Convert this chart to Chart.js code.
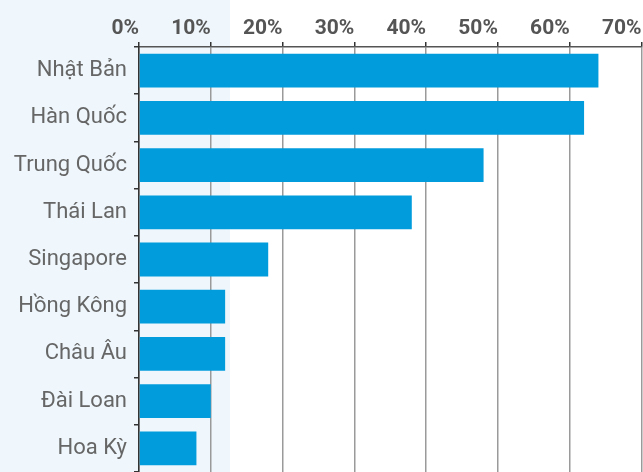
<!DOCTYPE html>
<html>
<head>
<meta charset="utf-8">
<script src="https://cdn.jsdelivr.net/npm/chart.js@4/dist/chart.umd.min.js"></script>
<style>
  html, body { margin: 0; padding: 0; }
  body {
    width: 643px; height: 472px; overflow: hidden;
    background: linear-gradient(to right, #eff7fc 0, #eff7fc 230px, #fff 230px);
  }
  #wrap { position: relative; width: 643px; height: 472px; }
  #wrap canvas { display: block; }
</style>
</head>
<body>
<div id="wrap"><canvas id="chart"></canvas></div>
<script>
// thị trường và tỷ lệ (%)
const countries = ['Nhật Bản', 'Hàn Quốc', 'Trung Quốc', 'Thái Lan', 'Singapore', 'Hồng Kông', 'Châu Âu', 'Đài Loan', 'Hoa Kỳ'];
const shares = [64, 62, 48, 38, 18, 12, 12, 10, 8];
const axisMax = 70;
const axisStep = 10;

const ctx = document.getElementById('chart').getContext('2d');

new Chart(ctx, {
    type: 'bar',
    data: {
        labels: countries,
        datasets: [{
            data: shares,
            backgroundColor: '#009cdc',
            borderWidth: 0,
            categoryPercentage: 1,
            barPercentage: 0.715
        }]
    },
    options: {
        indexAxis: 'y',
        responsive: true,
        maintainAspectRatio: false,
        animation: false,
        layout: { padding: { left: 0, right: 1.5, top: 0, bottom: 0 } },
        plugins: {
            legend: { display: false },
            tooltip: { enabled: false }
        },
        scales: {
            x: {
                position: 'top',
                min: 0,
                max: axisMax,
                ticks: {
                    stepSize: axisStep,
                    align: 'end',
                    padding: 1,
                    color: '#555',
                    font: { family: 'Roboto', size: 21, weight: 'bold' },
                    callback: v => v + '%'
                },
                grid: {
                    color: '#9a9a9a',
                    lineWidth: 1.5,
                    tickLength: 5,
                    tickColor: '#333'
                },
                border: { color: '#555', width: 1.5 },
                afterFit: s => { s.height = 47; s.paddingLeft = 0; s.paddingRight = 0; }
            },
            y: {
                ticks: {
                    padding: 7,
                    color: '#666',
                    font: { family: 'Roboto', size: 22 }
                },
                grid: {
                    drawOnChartArea: false,
                    tickLength: 5,
                    tickColor: '#333',
                    lineWidth: 1.5
                },
                border: { color: '#333', width: 1.5 },
                afterFit: s => { s.width = 139; s.paddingTop = 0; s.paddingBottom = 0; }
            }
        }
    }
});
</script>
</body>
</html>
